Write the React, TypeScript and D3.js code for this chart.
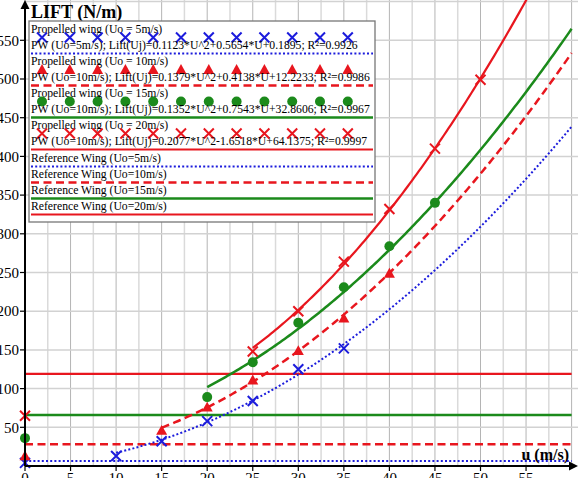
import React from "react";
import * as d3 from "d3";

const W = 578;
const H = 478;

// Measured points (U in m/s, Lift in N/m)
const pw5U = [0, 10, 15, 20, 25, 30, 35];
const pw5L = [4, 13, 32, 58, 84, 125, 152];
const pw10U = [0, 15, 20, 25, 30, 35, 40];
const pw10L = [13, 46, 76, 111, 149, 191, 249];
const pw15U = [0, 20, 25, 30, 35, 40, 45];
const pw15L = [36, 89, 134, 185, 231, 284, 340];
const pw20U = [0, 25, 30, 35, 40, 45, 50];
const pw20L = [65, 148, 200, 264, 332, 410, 499];

// Trend line coefficients [a, b, c] for a*U^2 + b*U + c and starting U
const fit5 = [0.1123, 0.5654, 0.1895];
const fit10 = [0.1379, 0.4138, 12.2233];
const fit15 = [0.1352, 0.7543, 32.8606];
const fit20 = [0.2077, -1.6518, 64.1375];
const fitStart = [10, 15, 20, 25];

// Reference wing constant lift
const refLift = [6.5, 28, 66, 119];

const xTicks = [0, 5, 10, 15, 20, 25, 30, 35, 40, 45, 50, 55];
const yTicks = [50, 100, 150, 200, 250, 300, 350, 400, 450, 500, 550];

const legendTitles = [
  "Propelled wing (Uo = 5m/s)",
  "Propelled wing (Uo = 10m/s)",
  "Propelled wing (Uo = 15m/s)",
  "Propelled wing (Uo = 20m/s)",
];
const legendFits = [
  "PW (Uo=5m/s); Lift(Uj)=0.1123*U^2+0.5654*U+0.1895; R²=0.9926",
  "PW (Uo=10m/s); Lift(Uj)=0.1379*U^2+0.4138*U+12.2233; R²=0.9986",
  "PW (Uo=10m/s); Lift(Uj)=0.1352*U^2+0.7543*U+32.8606; R²=0.9967",
  "PW (Uo=10m/s); Lift(Uj)=0.2077*U^2-1.6518*U+64.1375; R²=0.9997",
];
const legendRefs = [
  "Reference Wing (Uo=5m/s)",
  "Reference Wing (Uo=10m/s)",
  "Reference Wing (Uo=15m/s)",
  "Reference Wing (Uo=20m/s)",
];

const BLUE = "#1c1cdc";
const RED = "#e8161e";
const GREEN = "#1b8a1b";

const styles = [
  { color: BLUE, dash: "2,2.2", width: 2, marker: "x" },
  { color: RED, dash: "8,4.5", width: 2.5, marker: "tri" },
  { color: GREEN, dash: "none", width: 2.5, marker: "circle" },
  { color: RED, dash: "none", width: 2.2, marker: "x" },
];

const x = d3.scaleLinear().domain([0, 60]).range([25, 571.6]);
const y = d3.scaleLinear().domain([0, 600]).range([466, 1.6]);

function Marker({ type, cx, cy, color }: { type: string; cx: number; cy: number; color: string }) {
  if (type === "x") {
    const s = 5;
    return (
      <path
        d={`M${cx - s},${cy - s}L${cx + s},${cy + s}M${cx - s},${cy + s}L${cx + s},${cy - s}`}
        stroke={color}
        strokeWidth={2}
        fill="none"
      />
    );
  }
  if (type === "tri") {
    const s = 5.5;
    return (
      <path
        d={`M${cx},${cy - s}L${cx + s},${cy + s * 0.8}L${cx - s},${cy + s * 0.8}Z`}
        fill={color}
      />
    );
  }
  return <circle cx={cx} cy={cy} r={5} fill={color} />;
}

export default function App() {
  const series = [
    { u: pw5U, l: pw5L, fit: fit5 },
    { u: pw10U, l: pw10L, fit: fit10 },
    { u: pw15U, l: pw15L, fit: fit15 },
    { u: pw20U, l: pw20L, fit: fit20 },
  ];
  const line = d3
    .line<number>()
    .x((u) => x(u))
    .y((u) => 0);

  const fitPath = (fit: number[], start: number) => {
    const us = d3.range(start, 60.01, 0.25);
    const gen = d3
      .line<number>()
      .x((u) => x(u))
      .y((u) => y(fit[0] * u * u + fit[1] * u + fit[2]));
    return gen(us) || "";
  };

  const vGrid = d3.range(0, 60.01, 2.5);
  const hGrid = d3.range(50, 600.01, 50);

  const legendLeft = 29;
  const legendTop = 21;
  const legendRight = 375;
  const legendBottom = 222;
  const markerXs = d3.range(0, 12).map((i) => 42 + i * 27.8);
  const fs = 11.7;

  void line;

  return (
    <svg
      width={W}
      height={H}
      style={{ position: "absolute", left: 0, top: 0, background: "#fff" }}
      fontFamily="'Liberation Serif', 'Times New Roman', serif"
    >
      <defs>
        <clipPath id="plot">
          <rect x={25} y={0} width={W - 25} height={466} />
        </clipPath>
      </defs>
      <rect x={0} y={0} width={W} height={H} fill="#fff" />
      {/* grid */}
      {vGrid.map((v) => (
        <line
          key={"v" + v}
          x1={x(v)}
          x2={x(v)}
          y1={0}
          y2={466}
          stroke={v % 5 === 0 ? "#b4b4b4" : "#dadada"}
          strokeWidth={v % 5 === 0 ? 1 : 1.5}
        />
      ))}
      {hGrid.map((v) => (
        <line key={"h" + v} x1={25} x2={W} y1={y(v)} y2={y(v)} stroke="#d2d2d2" strokeWidth={1.5} />
      ))}

      <g clipPath="url(#plot)">
        {/* reference wing lines */}
        {refLift.map((v, i) => (
          <line
            key={"ref" + i}
            x1={x(0)}
            x2={x(60)}
            y1={y(v)}
            y2={y(v)}
            stroke={styles[i].color}
            strokeWidth={styles[i].width}
            strokeDasharray={styles[i].dash}
          />
        ))}
        {/* fits */}
        {series.map((s, i) => (
          <path
            key={"fit" + i}
            d={fitPath(s.fit, fitStart[i])}
            fill="none"
            stroke={styles[i].color}
            strokeWidth={styles[i].width}
            strokeDasharray={styles[i].dash}
          />
        ))}
      </g>
      {/* markers */}
      {series.map((s, i) =>
        s.u.map((u, j) => (
          <Marker key={`m${i}-${j}`} type={styles[i].marker} cx={x(u)} cy={y(s.l[j])} color={styles[i].color} />
        ))
      )}

      {/* axes */}
      <line x1={25} x2={25} y1={466} y2={6} stroke="#000" strokeWidth={2} />
      <path d="M25,0 L20.5,9 L29.5,9 Z" fill="#000" />
      <line x1={25} x2={570} y1={466} y2={466} stroke="#000" strokeWidth={2} />
      <path d="M578,466 L569,461.5 L569,470.5 Z" fill="#000" />
      {yTicks.map((t) => (
        <g key={"yt" + t}>
          <line x1={20} x2={25} y1={y(t)} y2={y(t)} stroke="#000" strokeWidth={1.2} />
          <text x={19} y={y(t)} dy="0.35em" textAnchor="end" fontSize={15} fill="#000">
            {t}
          </text>
        </g>
      ))}
      {xTicks.map((t) => (
        <g key={"xt" + t}>
          <line x1={x(t)} x2={x(t)} y1={466} y2={471} stroke="#000" strokeWidth={1.2} />
          <text x={x(t)} y={483} textAnchor="middle" fontSize={15} fill="#000">
            {t}
          </text>
        </g>
      ))}
      <text x={31} y={18} fontSize={18} fontWeight="bold" fill="#000">
        LIFT (N/m)
      </text>
      <text x={569} y={460} textAnchor="end" fontSize={16} fontWeight="bold" fill="#000">
        u (m/s)
      </text>

      {/* legend */}
      <rect
        x={legendLeft}
        y={legendTop}
        width={legendRight - legendLeft}
        height={legendBottom - legendTop}
        fill="#fff"
        stroke="#777"
        strokeWidth={1.3}
      />
      {legendTitles.map((t, i) => {
        const base = 33 + i * 32;
        const st = styles[i];
        return (
          <g key={"lg" + i}>
            <text x={31} y={base} fontSize={fs} fill="#000">
              {t}
            </text>
            {markerXs.map((mx, k) => (
              <Marker key={k} type={st.marker} cx={mx} cy={base + 4.5} color={st.color} />
            ))}
            <text x={31} y={base + 16} fontSize={fs} fill="#000">
              {legendFits[i]}
            </text>
            <line
              x1={31}
              x2={373}
              y1={base + 20.5}
              y2={base + 20.5}
              stroke={st.color}
              strokeWidth={st.width}
              strokeDasharray={st.dash}
            />
          </g>
        );
      })}
      {legendRefs.map((t, i) => {
        const base = 162 + i * 16;
        const st = styles[i];
        return (
          <g key={"lr" + i}>
            <text x={31} y={base} fontSize={fs} fill="#000">
              {t}
            </text>
            <line
              x1={31}
              x2={373}
              y1={base + 4.5}
              y2={base + 4.5}
              stroke={st.color}
              strokeWidth={st.width}
              strokeDasharray={st.dash}
            />
          </g>
        );
      })}
    </svg>
  );
}
